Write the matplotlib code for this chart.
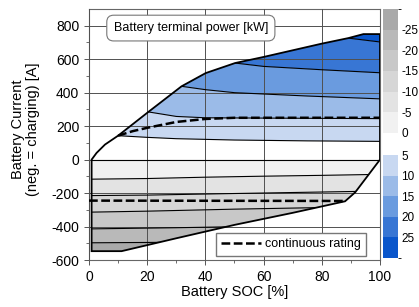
"""
Battery current vs SOC operating envelope, shaded by terminal power.

Iso-power lines (kW) are read off the reference figure; the bands between
them are filled and clipped to the operating envelope.
"""

import matplotlib
matplotlib.use("Agg")  # headless backend: no display required
import matplotlib.pyplot as plt
import numpy as np
from matplotlib.cm import ScalarMappable
from matplotlib.colors import BoundaryNorm, ListedColormap
from matplotlib.lines import Line2D
from matplotlib.patches import Polygon

plt.rcParams["font.family"] = ["Liberation Sans", "DejaVu Sans"]
plt.rcParams["axes.unicode_minus"] = False

# ---------------------------------------------------------------------------
# Data (SOC in %, current in A)
# ---------------------------------------------------------------------------

# operating envelope, discharging edge then charging edge
env_soc = [0.9, 2.6, 5.5, 10, 20.4, 31.8, 40.1, 50.2, 59.9, 80, 89.1, 94.3, 100,
           100, 91.5, 88, 70, 50, 30, 11.2, 0.9]
env_cur = [0, 40, 90, 143, 285, 438, 517, 577, 613, 693, 726, 750, 750,
           0, -195, -249, -318, -390, -470, -547, -547]

# discharging iso-power lines: 0, 5, 10, 15, 20, 25, 30 kW
pos_levels = [0, 5, 10, 15, 20, 25, 30]
pos_soc = [
    [0, 100],
    [0, 10, 20, 30, 50, 75, 100],
    [0, 20.4, 30, 40, 60, 100],
    [0, 31.8, 40, 50, 75, 100],
    [0, 50.2, 60, 80, 100],
    [0, 89.1, 100],
    [0, 100],
]
pos_cur = [
    [0, 0],
    [150, 143, 133, 125, 117, 112, 109],
    [320, 285, 258, 250, 248, 245],
    [480, 438, 418, 400, 380, 363],
    [640, 577, 557, 537, 519],
    [800, 726, 703],
    [900, 900],
]

# charging iso-power lines: 0, -5, ... -30 kW
neg_levels = [0, -5, -10, -15, -20, -25, -30]
neg_soc = [
    [0, 100],
    [0, 20, 40, 60, 80, 100],
    [0, 20, 48.5, 92, 100],
    [0, 20, 50, 100],
    [0, 30, 60, 100],
    [0, 20, 50, 100],
    [0, 100],
]
neg_cur = [
    [0, 0],
    [-117, -113, -105, -99, -94, -88],
    [-215, -212, -203, -190, -188],
    [-314, -308, -296, -280],
    [-414, -407, -398, -385],
    [-497, -495, -490, -480],
    [-600, -600],
]

# continuous rating
rate_dis_soc = [10, 15, 20, 30, 40, 50, 100]
rate_dis_cur = [143, 170, 190, 225, 243, 250, 250]
rate_chg_soc = [0, 88]
rate_chg_cur = [-245, -247]

BLUES = ["#c8d8f1", "#9bbbe8", "#6a9bdf", "#3876d4", "#0a56cb"]
GREYS = ["#f1f1f1", "#e3e3e3", "#d6d6d6", "#c8c8c8", "#b9b9b9", "#a9a9a9"]


# ---------------------------------------------------------------------------
# Helpers
# ---------------------------------------------------------------------------

def _band(ax, xs_lo, ys_lo, xs_hi, ys_hi, color, clip):
    x = np.concatenate([xs_lo, xs_hi[::-1]])
    y = np.concatenate([ys_lo, ys_hi[::-1]])
    (patch,) = ax.fill(x, y, color=color, lw=0, zorder=1)
    patch.set_clip_path(clip)


def _iso_line(ax, xs, ys, clip):
    (ln,) = ax.plot(xs, ys, color="black", lw=0.8, zorder=3)
    ln.set_clip_path(clip)


# ---------------------------------------------------------------------------
# Figure
# ---------------------------------------------------------------------------

fig = plt.figure(figsize=(4.19, 3.07), dpi=100)
ax = fig.add_axes([0.2124, 0.153, 0.6945, 0.8177])

env = Polygon(np.column_stack([env_soc, env_cur]), closed=True,
              transform=ax.transData, fc="none", ec="black", lw=1.3, zorder=4)

# discharging bands (0-5 kW left white)
for k in range(1, len(pos_levels) - 1):
    _band(ax, np.array(pos_soc[k]), np.array(pos_cur[k]),
          np.array(pos_soc[k + 1]), np.array(pos_cur[k + 1]), BLUES[k - 1], env)
# charging bands
for k in range(len(neg_levels) - 1):
    _band(ax, np.array(neg_soc[k]), np.array(neg_cur[k]),
          np.array(neg_soc[k + 1]), np.array(neg_cur[k + 1]), GREYS[k], env)

for xs, ys in zip(pos_soc[:-1], pos_cur[:-1]):
    _iso_line(ax, xs, ys, env)
for xs, ys in zip(neg_soc[1:-1], neg_cur[1:-1]):
    _iso_line(ax, xs, ys, env)
ax.add_patch(env)

dash = dict(color="black", lw=1.8, dashes=(3.5, 1.4), zorder=5)
ax.plot(rate_dis_soc, rate_dis_cur, **dash)
ax.plot(rate_chg_soc, rate_chg_cur, **dash)

ax.set_xlim(0, 100)
ax.set_ylim(-600, 900)
ax.set_xticks(np.arange(0, 101, 20))
ax.set_xticks(np.arange(10, 100, 20), minor=True)
ax.set_yticks(np.arange(-600, 801, 200))
ax.set_yticks(np.arange(-500, 900, 200), minor=True)
ax.tick_params(labelsize=10, length=3.5, width=0.7, color="#555555")
ax.tick_params(which="minor", length=2.2, width=0.6, color="#555555")
ax.set_axisbelow(False)
ax.grid(color="#505050", lw=0.7)
for sp in ax.spines.values():
    sp.set_color("#666666")
    sp.set_linewidth(0.8)

ax.set_xlabel("Battery SOC [%]", fontsize=10.5, labelpad=1)
ax.set_ylabel("Battery Current\n(neg. = charging) [A]", fontsize=10.5,
              linespacing=1.1)
ax.yaxis.set_label_coords(-0.168, 0.52)

ax.text(0.35, 0.924, "Battery terminal power [kW]", transform=ax.transAxes,
        fontsize=9, ha="center", va="center", zorder=6,
        bbox=dict(boxstyle="round,pad=0.55", fc="white", ec="#777777", lw=0.8))

handle = Line2D([], [], **dash)
ax.legend([handle], ["continuous rating"], loc="lower right",
          bbox_to_anchor=(0.952, 0.016), borderaxespad=0, fontsize=9,
          handlelength=3.2, handletextpad=0.25, borderpad=0.45,
          fancybox=False, framealpha=1, edgecolor="#777777")

# ---------------------------------------------------------------------------
# Colour bars: charging (grey) on top, discharging (blue) below
# ---------------------------------------------------------------------------

cax_neg = fig.add_axes([0.914, 0.5668, 0.0358, 0.404])
cmap_neg = ListedColormap(GREYS[::-1])
cb_neg = fig.colorbar(ScalarMappable(BoundaryNorm(neg_levels[::-1], 6), cmap_neg),
                      cax=cax_neg, ticks=neg_levels[:-1])
cax_neg.invert_yaxis()

cax_pos = fig.add_axes([0.914, 0.1596, 0.0358, 0.3355])
cmap_pos = ListedColormap(BLUES)
cb_pos = fig.colorbar(ScalarMappable(BoundaryNorm(pos_levels[1:], 5), cmap_pos),
                      cax=cax_pos, ticks=pos_levels[1:-1])
cax_pos.invert_yaxis()

for cb in (cb_neg, cb_pos):
    cb.outline.set_visible(False)
    cb.ax.tick_params(length=0, pad=2.5, labelsize=8.5)

fig.savefig("out.png", dpi=100)
